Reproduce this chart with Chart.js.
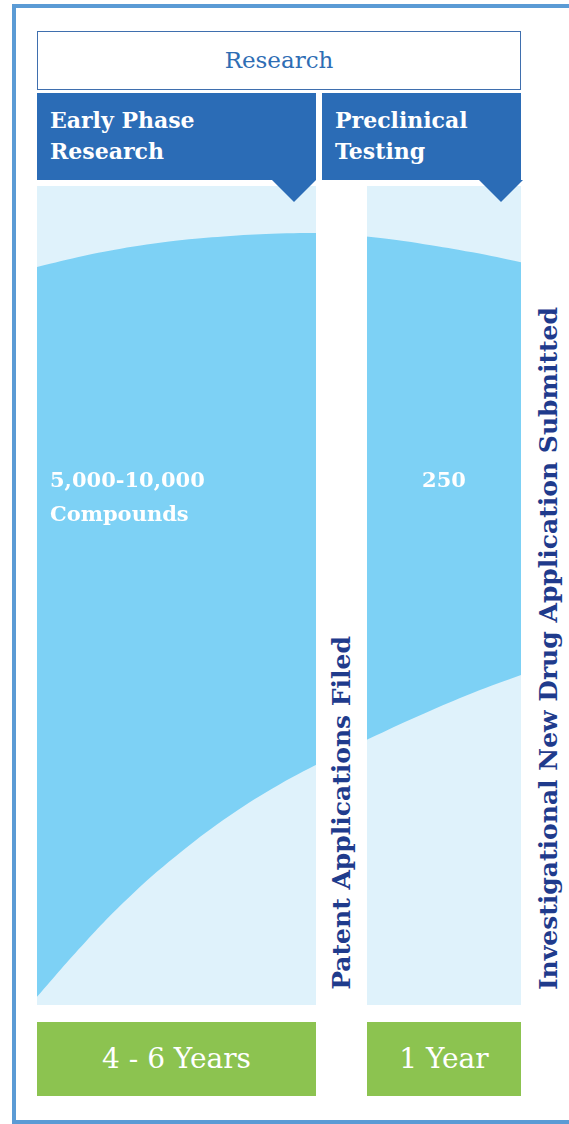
<!DOCTYPE html>
<html>
<head>
<meta charset="utf-8">
<script src="https://cdn.jsdelivr.net/npm/chart.js@4"></script>
<style>
  html, body { margin: 0; padding: 0; background: #fff; }
  body { width: 569px; height: 1124px; position: relative; overflow: hidden; font-family: "DejaVu Serif", serif; }
  .abs { position: absolute; }
  #frame { left: 12px; top: 4px; width: 600px; height: 1112px; border: 4px solid #5b9bd5; border-right: none; }
  #research { left: 37px; top: 31px; width: 482px; height: 57px; border: 1.5px solid #3f6fae; background: #fff;
              color: #2e6db4; font-size: 23px; text-align: center; line-height: 57px; }
  .head { background: #2b6cb6; color: #fff; font-weight: bold; font-size: 22px; line-height: 31px; top: 93px; height: 87px; box-sizing: border-box; padding: 12px 0 0 13px; }
  .tri { width: 0; height: 0; border-left: 22px solid transparent; border-right: 22px solid transparent; border-top: 22px solid #2b6cb6; top: 180px; }
  .panel { background: #dff2fb; top: 186px; height: 819px; }
  #gap { left: 316px; top: 180px; width: 51px; height: 830px; background: #fff; }
  .vert { writing-mode: vertical-rl; transform: rotate(180deg); color: #1f3b8c; font-weight: bold; font-size: 25px; white-space: nowrap; }
  .green { background: #8cc350; color: #fff; top: 1022px; height: 74px; line-height: 74px; text-align: center; font-size: 28px; }
  .lbl { color: #fff; font-weight: bold; font-size: 21px; line-height: 34px; }
</style>
</head>
<body>
<div id="frame" class="abs"></div>
<div id="research" class="abs">Research</div>

<div class="abs panel" style="left:37px;width:279px"></div>
<div class="abs panel" style="left:367px;width:154px"></div>
<canvas id="funnel" class="abs" width="484" height="819" style="left:37px;top:186px"></canvas>
<div id="gap" class="abs"></div>

<div class="abs head" style="left:37px;width:279px">Early Phase<br>Research</div>
<div class="abs head" style="left:322px;width:199px">Preclinical<br>Testing</div>
<div class="abs tri" style="left:272px"></div>
<div class="abs tri" style="left:479px"></div>

<div class="abs lbl" style="left:50px;top:463px">5,000-10,000<br>Compounds</div>
<div class="abs lbl" style="left:367px;width:154px;top:463px;text-align:center">250</div>

<div class="abs vert" style="left:327px;bottom:134px">Patent Applications Filed</div>
<div class="abs vert" style="left:534px;bottom:134px">Investigational New Drug Application Submitted</div>

<div class="abs green" style="left:37px;width:279px">4 - 6 Years</div>
<div class="abs green" style="left:367px;width:154px">1 Year</div>

<script>
// progress across the research timeline (0 = start, 100 = IND submitted)
const progress = [0, 10, 20, 30, 40, 50, 60, 70, 80, 90, 100];
// funnel edges, % of panel height
const upperEdge = [90.1, 91.5, 92.6, 93.4, 93.9, 94.2, 94.2, 93.7, 92.9, 91.9, 90.7];
const lowerEdge = [1.0, 7.7, 13.7, 18.8, 23.2, 26.9, 30.0, 32.9, 35.6, 38.1, 40.3];

const toPoints = arr => arr.map((v, i) => ({ x: progress[i], y: v }));

const ctx = document.getElementById('funnel').getContext('2d');
new Chart(ctx, {
    type: 'line',
    data: {
        datasets: [
            { label: 'lower', data: toPoints(lowerEdge), borderWidth: 0, pointRadius: 0, fill: false, tension: 0.4 },
            { label: 'upper', data: toPoints(upperEdge), borderWidth: 0, pointRadius: 0, fill: '-1', backgroundColor: '#7dd1f5', tension: 0.4 }
        ]
    },
    options: {
        responsive: false,
        animation: false,
        layout: { padding: 0 },
        plugins: { legend: { display: false }, tooltip: { enabled: false } },
        scales: {
            x: { type: 'linear', min: 0, max: 100, display: false },
            y: { min: 0, max: 100, display: false }
        }
    }
});
</script>
</body>
</html>
